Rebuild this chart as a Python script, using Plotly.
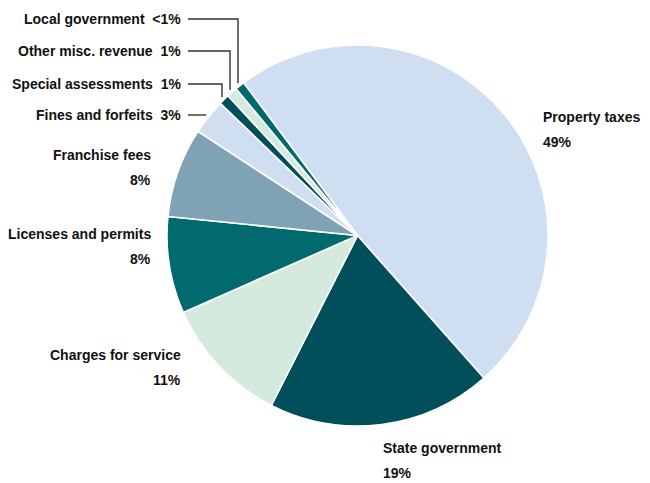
import math
import plotly.graph_objects as go

# ---- data ----
categories = ["Property taxes", "State government", "Charges for service",
              "Licenses and permits", "Franchise fees", "Fines and forfeits",
              "Special assessments", "Other misc. revenue", "Local government"]
values = [48.6, 19.0, 10.9, 8.2, 7.6, 3.0, 0.9, 0.9, 0.8]
pct_labels = ["49%", "19%", "11%", "8%", "8%", "3%", "1%", "1%", "&lt;1%"]
colors = ["#cfdff1", "#014f5b", "#d4eadc", "#016a6f", "#7fa2b5",
          "#cfdff1", "#014f5b", "#d4eadc", "#016a6f"]

W, H = 650, 483
CX, CY, R = 357.5, 235.5, 190.5
ROT = -36.7  # start angle (deg, clockwise from 12 o'clock)

FONT = "Liberation Sans, Arial, sans-serif"
FS = 14
INK = "#111111"

def px(x):
    return x / W

def py(y):
    return 1 - y / H

fig = go.Figure(go.Pie(
    labels=categories, values=values, sort=False, direction="clockwise",
    rotation=ROT, textinfo="none", hoverinfo="label+percent",
    marker=dict(colors=colors, line=dict(color="white", width=1.6)),
    domain=dict(x=[px(CX - R), px(CX + R)], y=[py(CY + R), py(CY - R)]),
    showlegend=False,
))

# mid-angle of each slice (from data)
total = sum(values)
mids = []
acc = 0.0
for v in values:
    a0 = ROT + 360 * acc / total
    acc += v
    a1 = ROT + 360 * acc / total
    mids.append(math.radians((a0 + a1) / 2))

def rim(i, gap=0.0):
    a = mids[i]
    return CX + (R + gap) * math.sin(a), CY - (R + gap) * math.cos(a)

annotations = []
shapes = []

def ann(text, x, y, xanchor):
    annotations.append(dict(text=text, x=px(x), y=py(y), xref="paper", yref="paper",
                            xanchor=xanchor, yanchor="middle", align=xanchor,
                            showarrow=False,
                            font=dict(family=FONT, size=FS, color=INK, weight="bold")))

# large slices: two-line labels (name, then percent)
big = {0: (541, 117, "left"), 1: (381, 448, "left"), 2: (183, 355, "right"),
       3: (153, 234, "right"), 4: (153, 155, "right")}
LINE = 25
for i, (x, y, side) in big.items():
    ann(categories[i], x, y, side)
    ann(pct_labels[i], x, y + LINE, side)

# small slices: one-line labels with leader lines
small = {8: 19, 7: 51, 6: 84, 5: 115}
LX = 183
for i, y in small.items():
    ann(f"{categories[i]}\u00a0\u00a0{pct_labels[i]}", LX, y, "right")
    rx, ry = rim(i, gap=3)
    if i == 5:
        pts = [(LX + 5, y), (rx, y)]
    else:
        pts = [(LX + 5, y), (rx, y), (rx, ry)]
    path = "M " + " L ".join(f"{px(a)},{py(b)}" for a, b in pts)
    shapes.append(dict(type="path", path=path, xref="paper", yref="paper",
                       line=dict(color="#333333", width=1.4)))

fig.update_layout(width=W, height=H, margin=dict(l=0, r=0, t=0, b=0),
                  paper_bgcolor="white", plot_bgcolor="white",
                  annotations=annotations, shapes=shapes)
fig.write_html("out.html")
